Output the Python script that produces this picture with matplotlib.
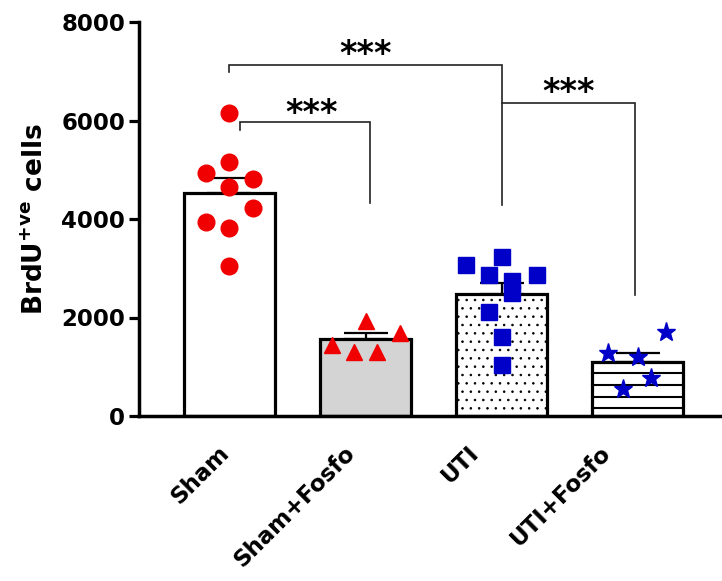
import numpy as np
import matplotlib
matplotlib.use('Agg')
import matplotlib.pyplot as plt

plt.rcParams['font.family'] = ['DejaVu Sans']
plt.rcParams['font.weight'] = 'bold'
plt.rcParams['mathtext.fontset'] = 'dejavusans'
plt.rcParams['mathtext.default'] = 'bf'
plt.rcParams['hatch.linewidth'] = 0.6

# ── data ───────────────────────────────────────────────────────────────────
GROUPS = ['Sham', 'Sham+Fosfo', 'UTI', 'UTI+Fosfo']
MEANS = [4535, 1560, 2480, 1105]
SEMS = [290, 120, 215, 180]

SHAM = [6160, 5165, 4925, 4805, 4655, 4215, 3935, 3810, 3045]
SHAM_DX = [0, 0, -0.17, 0.175, 0, 0.175, -0.17, 0, 0]
SHAM_FOSFO = [1935, 1680, 1440, 1305, 1305]
SHAM_FOSFO_DX = [0, 0.25, -0.25, -0.085, 0.085]
UTI = [3235, 3065, 2865, 2865, 2745, 2505, 2120, 1610, 1035]
UTI_DX = [0, -0.26, 0.26, -0.09, 0.08, 0.08, -0.09, 0, 0]
UTI_FOSFO = [1700, 1270, 1190, 765, 540]
UTI_FOSFO_DX = [0.21, -0.22, 0, 0.1, -0.11]

# significance brackets
BR_X1 = [0, 0.08, 2]
BR_X2 = [2, 1.03, 2.98]
BR_Y = [7130, 5965, 6360]
BR_Y1 = [6990, 5805, 6360]
BR_Y2 = [4285, 4325, 2455]
STAR_X = [1.0, 0.6, 2.49]
STAR_Y = [7310, 6110, 6540]
STAR_TXT = ['***', '***', '***']

YTICKS = [0, 2000, 4000, 6000, 8000]

RED = '#F00000'; BLUE = '#0000C8'; GRAY = '#D4D4D4'

# ── figure ─────────────────────────────────────────────────────────────────
fig = plt.figure(figsize=(7.22, 5.81), dpi=100)
ax = fig.add_axes([139/722, 1-416/581, 583/722, 394/581])

x = np.arange(len(GROUPS))
W = 0.67
bars = ax.bar(x, MEANS, W, color=['white', GRAY, 'white', 'white'],
              edgecolor='black', linewidth=2.3, zorder=2)
bars[2].set_hatch('..')

# horizontal stripes in UTI+Fosfo
b = bars[3]
step = 237
for yy in np.arange(step*0.66, b.get_height(), step):
    ax.plot([b.get_x(), b.get_x()+b.get_width()], [yy, yy], color='black',
            lw=1.5, zorder=2.5)

ax.errorbar(x, MEANS, yerr=[np.zeros(len(SEMS)), SEMS], fmt='none',
            ecolor='black', elinewidth=1.6, capsize=16, capthick=1.6, zorder=3)

ax.plot(0 + np.array(SHAM_DX), SHAM, ls='none', marker='o', ms=12,
        color=RED, mec=RED, zorder=4)
ax.plot(1 + np.array(SHAM_FOSFO_DX), SHAM_FOSFO, ls='none', marker='^', ms=11,
        color=RED, mec=RED, zorder=4)
ax.plot(2 + np.array(UTI_DX), UTI, ls='none', marker='s', ms=11,
        color=BLUE, mec=BLUE, zorder=4)
ax.plot(3 + np.array(UTI_FOSFO_DX), UTI_FOSFO, ls='none', marker='*', ms=14,
        color=BLUE, mec=BLUE, zorder=4)

for x1, x2, yb, y1, y2 in zip(BR_X1, BR_X2, BR_Y, BR_Y1, BR_Y2):
    ax.plot([x1, x1, x2, x2], [y1, yb, yb, y2], color='#222222', lw=1.2,
            solid_joinstyle='miter', zorder=1)
for sx, sy, t in zip(STAR_X, STAR_Y, STAR_TXT):
    ax.annotate(t, (sx, sy), xytext=(0, -6), textcoords='offset points',
                ha='center', va='baseline', fontsize=24, fontweight='bold')

ax.set_xlim(-0.665, 3.62)
ax.set_ylim(0, 8000)
ax.set_yticks(YTICKS)
ax.set_xticks(x)
ax.set_xticklabels([])
# slanted category labels, nudged left like the original layout
for xi, lab, dx in zip(x, GROUPS, [-3, -10, -19, -22]):
    ax.annotate(lab, (xi, 0), xycoords=ax.get_xaxis_transform(),
                xytext=(dx, -24), textcoords='offset points', rotation=45,
                ha='right', va='center', rotation_mode='anchor',
                fontsize=16.5, fontweight='bold', annotation_clip=False)
ax.tick_params(axis='x', length=0)
ax.tick_params(axis='y', length=7, width=2.3, pad=3, labelsize=16.5)
for s in ['top', 'right']:
    ax.spines[s].set_visible(False)
for s in ['left', 'bottom']:
    ax.spines[s].set_linewidth(2.5)

ax.set_ylabel(r'BrdU$^{+ve}$ cells', fontsize=19, fontweight='bold')
ax.yaxis.set_label_coords(-0.155, 0.5)

fig.savefig('out.png', dpi=100)
